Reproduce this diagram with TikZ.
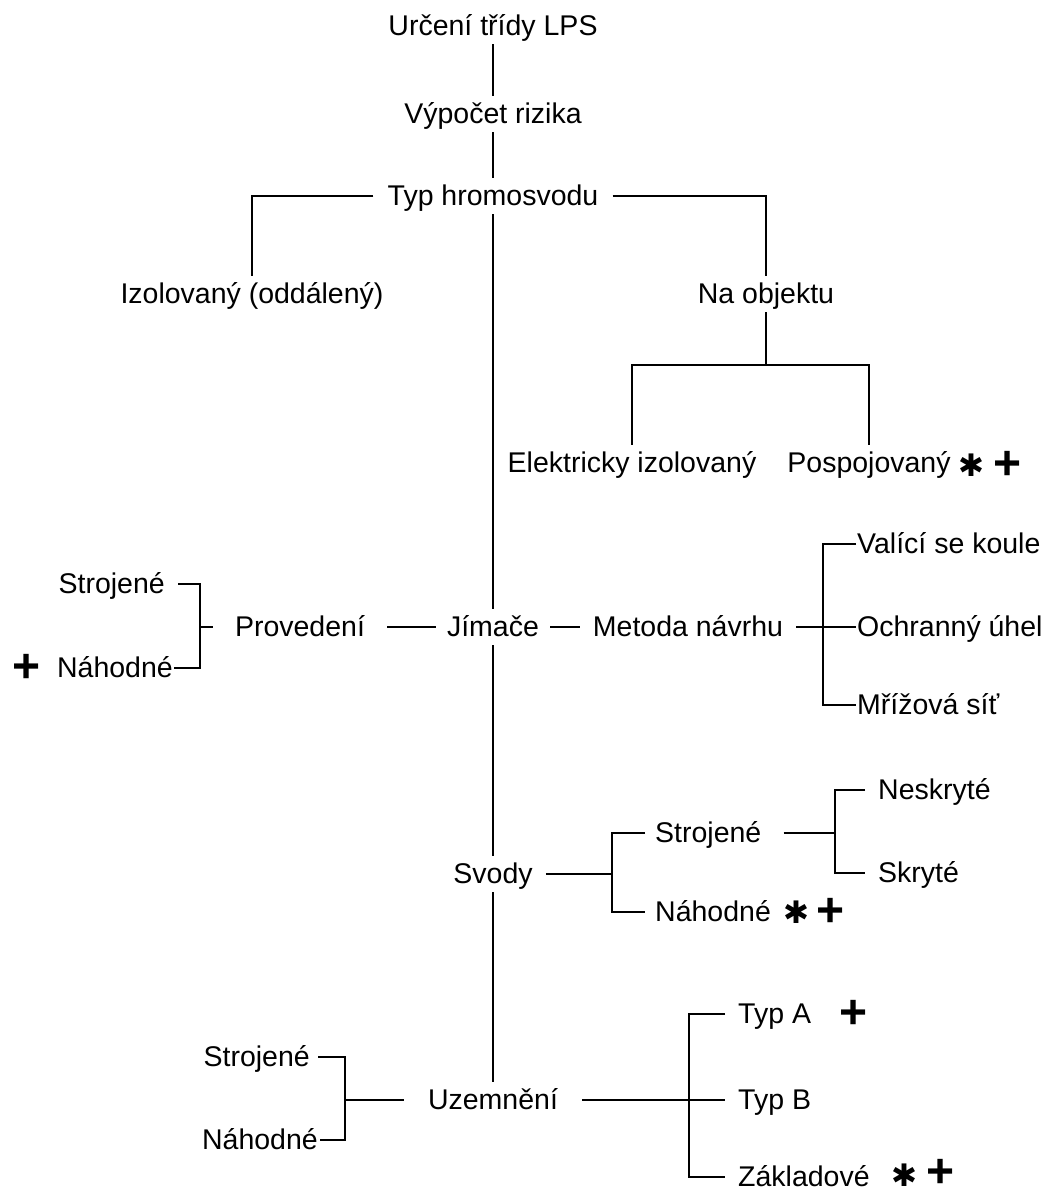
\documentclass[tikz,border=0pt]{standalone}
\usepackage{fontspec}
\setmainfont{Liberation Sans}
\newfontfamily\symfont{DejaVu Sans}
\begin{document}
\begin{tikzpicture}[x=1pt,y=-1pt,
  lbl/.style={font=\fontsize{28.5}{30}\selectfont, inner ysep=5pt, inner xsep=12pt, text height=22pt, text depth=4pt, anchor=base},
  conn/.style={draw=black, line width=1.3pt},
  plusmark/.style={font=\fontsize{48}{48}\selectfont\bfseries, inner sep=0pt},
  starmark/.style={font=\symfont\bfseries\fontsize{31}{31}\selectfont, inner sep=0pt}]
\fill[white] (0,0) rectangle (1057,1200);
\useasboundingbox (0,0) rectangle (1057,1200);

% top
\node[lbl] (lps) at (493,35) {Určení třídy LPS};
\node[lbl] (risk) at (493,123) {Výpočet rizika};
\node[lbl, inner xsep=14pt] (typ) at (493,205) {Typ hromosvodu};
\node[lbl] (izo) at (252,303) {Izolovaný (oddálený)};
\node[lbl] (naobj) at (766,303) {Na objektu};
\coordinate (nb) at (766,365);
\node[lbl] (elek) at (632,472) {Elektricky izolovaný};
\node[lbl] (posp) at (869,472) {Pospojovaný};
\node[starmark] (s1) at (971,465) {✱};
\node[plusmark] (p1) at (1008,465) {+};

% Jimace row
\node[lbl, inner xsep=11pt] (jim) at (493,636) {Jímače};
\node[lbl, inner xsep=22pt] (prov) at (300,636) {Provedení};
\node[lbl, inner xsep=13pt] (met) at (688,636) {Metoda návrhu};
\node[lbl, anchor=base west, inner xsep=1pt] (val) at (856,553) {Valící se koule};
\node[lbl, anchor=base west, inner xsep=1pt] (och) at (856,636) {Ochranný úhel};
\node[lbl, anchor=base west, inner xsep=1pt] (mriz) at (856,714) {Mřížová síť};
\node[lbl, anchor=base east, inner xsep=13pt] (sl1) at (178,593) {Strojené};
\node[lbl, anchor=base east, inner xsep=1pt] (nl1) at (174,677) {Náhodné};
\node[plusmark] (p2) at (27,668) {+};
\coordinate (pb) at (200,627);
\coordinate (mb) at (823,627);

% Svody
\node[lbl, inner xsep=13pt] (svody) at (493,883) {Svody};
\coordinate (sb) at (612,874);
\node[lbl, anchor=base west, inner xsep=10pt] (svs) at (645,842) {Strojené};
\node[lbl, anchor=base west, inner xsep=10pt] (svn) at (645,921) {Náhodné};
\node[starmark] (s2) at (796,912) {✱};
\node[plusmark] (p3) at (831,912) {+};
\coordinate (sb2) at (835,833);
\node[lbl, anchor=base west, inner xsep=13pt] (nesk) at (865,799) {Neskryté};
\node[lbl, anchor=base west, inner xsep=13pt] (skry) at (865,882) {Skryté};

% Uzemneni
\node[lbl, inner xsep=24pt] (uzem) at (493,1109) {Uzemnění};
\coordinate (ub) at (689,1100);
\node[lbl, anchor=base west, inner xsep=13pt] (ta) at (725,1023) {Typ A};
\node[lbl, anchor=base west, inner xsep=13pt] (tb) at (725,1109) {Typ B};
\node[lbl, anchor=base west, inner xsep=13pt] (zak) at (725,1186) {Základové};
\node[plusmark] (p4) at (854,1014) {+};
\node[starmark] (s3) at (904,1175) {✱};
\node[plusmark] (p5) at (941,1173) {+};
\node[lbl, anchor=base east, inner xsep=8pt] (sl2) at (318,1066) {Strojené};
\node[lbl, anchor=base east, inner xsep=2pt] (nl2) at (320,1149) {Náhodné};
\coordinate (lb) at (345,1100);

% connectors
\draw[conn] (lps.south) -- (risk.north);
\draw[conn] (risk.south) -- (typ.north);
\draw[conn] (typ.west) -| (izo.north);
\draw[conn] (typ.east) -| (naobj.north);
\draw[conn] (typ.south) -- (jim.north);
\draw[conn] (jim.south) -- (svody.north);
\draw[conn] (svody.south) -- (uzem.north);
\draw[conn] (naobj.south) -- (nb);
\draw[conn] (elek.north) |- (nb) -| (posp.north);

\draw[conn] (sl1.east) -| (pb) |- (nl1.east);
\draw[conn] (pb) -- (prov.west);
\draw[conn] (prov.east) -- (jim.west);
\draw[conn] (jim.east) -- (met.west);
\draw[conn] (met.east) -- (och.west);
\draw[conn] (val.west) -| (mb) |- (mriz.west);

\draw[conn] (svody.east) -- (sb);
\draw[conn] (svs.west) -| (sb) |- (svn.west);
\draw[conn] ([xshift=12pt]svs.east) -- (sb2);
\draw[conn] (nesk.west) -| (sb2) |- (skry.west);

\draw[conn] (uzem.east) -- (tb.west);
\draw[conn] (ta.west) -| (ub) |- (zak.west);
\draw[conn] (sl2.east) -| (lb) |- (nl2.east);
\draw[conn] (lb) -- (uzem.west);
\end{tikzpicture}
\end{document}
